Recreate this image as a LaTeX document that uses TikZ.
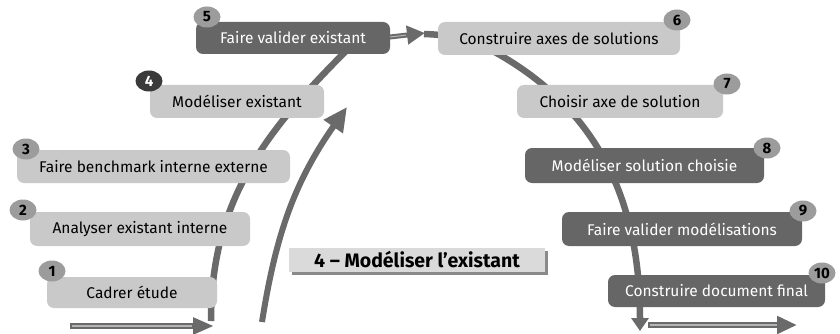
\documentclass[tikz,border=0pt]{standalone}
\usepackage{fontspec}
\setmainfont{Fira Sans}
\usetikzlibrary{arrows.meta,shapes.geometric,shadows,calc}

\definecolor{boxlight}{HTML}{C9C9C9}
\definecolor{boxdark}{HTML}{666666}
\definecolor{badgefill}{HTML}{9C9C9C}
\definecolor{badgedark}{HTML}{3A3A3A}
\definecolor{flow}{HTML}{6A6A6A}
\definecolor{flowlight}{HTML}{B4B4B4}
\definecolor{titlefill}{HTML}{DADADA}
\definecolor{titleshadow}{HTML}{8A8A8A}

\tikzset{
  stepbox/.style={rounded corners=7pt, inner sep=0pt, anchor=center,
    font=\fontsize{15.5}{17}\selectfont},
  lightbox/.style={stepbox, fill=boxlight, text=black},
  darkbox/.style={stepbox, fill=boxdark, text=white},
  badge/.style={ellipse, fill=badgefill, text=black, inner sep=0pt,
    minimum width=27pt, minimum height=21pt,
    font=\bfseries\fontsize{15}{15}\selectfont},
  badgeblack/.style={badge, fill=badgedark, text=white},
  flowline/.style={draw=flow, line width=6.5pt},
  hollowshaft/.style={draw=flowlight, line width=1.6pt},
}

\begin{document}
\begin{tikzpicture}[x=1pt,y=1pt]
\useasboundingbox (0,0) rectangle (840,-334);

% hidden ends of the two process arcs
\coordinate (arcLstart) at (211,-321);
\coordinate (arcLtop)   at (345,-52);
\coordinate (arcLexit)  at (390,-37);
\coordinate (arrTip)    at (425,-33);
\coordinate (arcRstart) at (424,-34);
\coordinate (arcRbend)  at (500,-55);
\coordinate (arcRend)   at (640,-331);

% left arc: steps 1 to 5
\draw[flowline] (arcLstart) to[out=90,in=225] (arcLtop)
                to[out=45,in=180] (arcLexit);
% right arc: steps 6 to 10
\draw[flowline, -{Triangle[length=13pt,width=17pt]}]
      (arcRstart) to[out=-2,in=150] (arcRbend)
      to[out=-30,in=90] (arcRend);

% steps
\node[lightbox, minimum width=170pt, minimum height=31pt] (s1) at (132,-292.5) {Cadrer étude};
\node[lightbox, minimum width=220pt, minimum height=34pt] (s2) at (140,-229) {Analyser existant interne};
\node[lightbox, minimum width=273pt, minimum height=33pt] (s3) at (153.5,-166.5) {Faire benchmark interne externe};
\node[lightbox, minimum width=174pt, minimum height=33pt] (s4) at (237,-101.5) {Modéliser existant};
\node[darkbox,  minimum width=194pt, minimum height=32pt] (s5) at (293,-38) {Faire valider existant};
\node[lightbox, minimum width=242pt, minimum height=33pt] (s6) at (559,-38.5) {Construire axes de solutions};
\node[lightbox, minimum width=206pt, minimum height=33pt] (s7) at (620,-101.5) {Choisir axe de solution};
\node[darkbox,  minimum width=239pt, minimum height=35pt] (s8) at (644.5,-165.5) {Modéliser solution choisie};
\node[darkbox,  minimum width=240pt, minimum height=34pt] (s9) at (682,-229) {Faire valider modélisations};
\node[darkbox,  minimum width=217pt, minimum height=32pt] (s10) at (716.5,-291) {Construire document final};

% step numbers
\node[badge]      (b1)  at (52,-271)  {1};
\node[badge]      (b2)  at (23,-210)  {2};
\node[badge]      (b3)  at (26,-149)  {3};
\node[badgeblack] (b4)  at (149,-81)  {4};
\node[badge]      (b5)  at (207,-17)  {5};
\node[badge]      (b6)  at (677,-20)  {6};
\node[badge]      (b7)  at (727,-84)  {7};
\node[badge]      (b8)  at (767,-148) {8};
\node[badge]      (b9)  at (803,-211) {9};
\node[badge]      (b10) at (822,-273) {10};

% hand-over from step 5 to step 6
\draw[flowline, line width=5pt, -{Triangle[length=18pt,width=18pt]}] (arcLexit) -- (arrTip);
\draw[hollowshaft, line width=1pt] (arcLexit) -- ($(arcLexit)!0.45!(arrTip)$);

% phase title
\node[fill=titlefill, minimum width=256pt, minimum height=24pt, inner sep=0pt,
      font=\bfseries\fontsize{19.5}{21}\selectfont,
      drop shadow={shadow xshift=2.5pt, shadow yshift=-2.5pt, fill=titleshadow, opacity=1}]
      (title) at (417,-260) {4 – Modéliser l’existant};

% progress arrow through the phase
\coordinate (bigStart) at (262,-322);
\coordinate (bigTip)   at (347,-107);
\draw[flowline, line width=6pt, -{Triangle[length=24pt,width=22pt]}]
      (bigStart) to[out=81,in=235] (bigTip);

% entry and exit arrows
\coordinate (inStart)  at (70,-326);
\coordinate (inTip)    at (214,-326);
\coordinate (outStart) at (648,-325);
\coordinate (outTip)   at (797,-325);
\draw[flowline, line width=6pt, -{Triangle[length=21pt,width=16pt]}] (inStart) -- (inTip);
\draw[hollowshaft] (inStart) ++(1.5,0) -- ++(120,0);
\draw[flowline, line width=6pt, -{Triangle[length=20pt,width=17pt]}] (outStart) -- (outTip);
\draw[hollowshaft] (outStart) ++(1.5,0) -- ++(127,0);
\end{tikzpicture}
\end{document}
